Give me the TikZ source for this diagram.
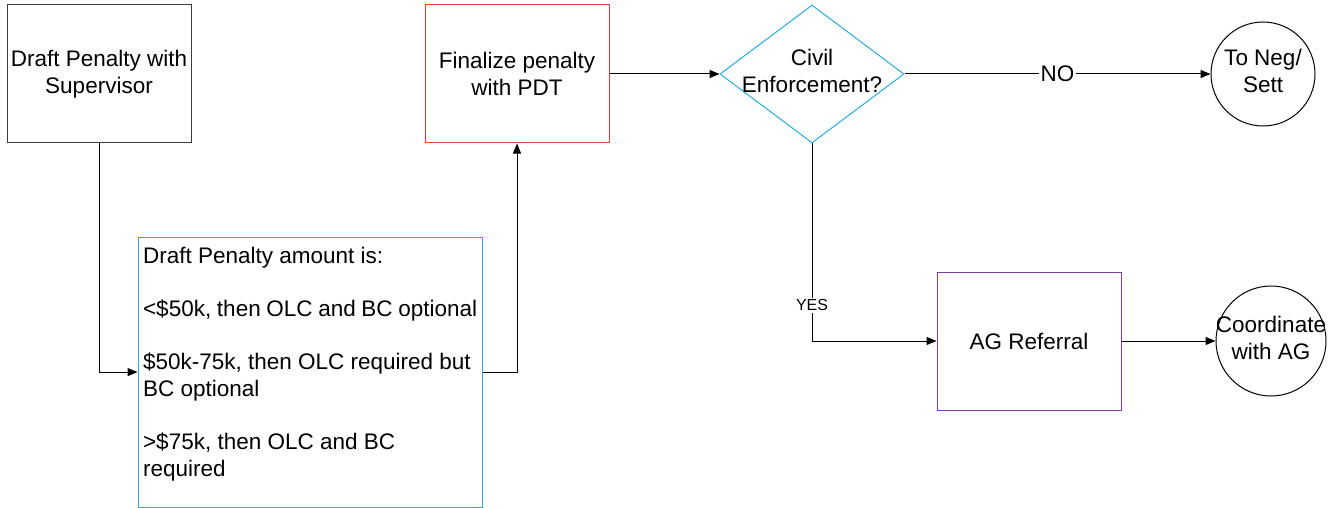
\documentclass[tikz,border=0pt]{standalone}
\usepackage{fontspec}
\setmainfont{Liberation Sans}
\usetikzlibrary{shapes.geometric,arrows.meta,positioning}
\definecolor{flowcyan}{RGB}{40,170,230}
\definecolor{flowred}{RGB}{232,64,64}
\definecolor{flowpurple}{RGB}{126,64,160}
\definecolor{flowgray}{RGB}{60,60,60}
\newcommand{\tightlabel}[1]{\makebox[0pt]{\begin{tabular}{@{}c@{}}#1\end{tabular}}}

\begin{document}
\begin{tikzpicture}[x=0.5pt, y=-0.5pt, line width=0.5pt,
    >={Triangle[length=5pt,width=4pt]},
    every node/.style={font=\fontsize{11.25}{13.5}\selectfont},
    taskbox/.style={draw, rectangle, minimum width=92pt, minimum height=69pt, inner sep=0pt, align=center},
    notebox/.style={draw=flowcyan, rectangle, line width=0.6pt, anchor=north west, inner xsep=2.5pt, inner ysep=5pt},
    decision/.style={draw=flowcyan, diamond, minimum width=92pt, minimum height=69pt, inner sep=0pt},
    endpoint/.style={draw, circle, inner sep=0pt},
    flowlabel/.style={fill=white, inner sep=1pt}]
    \useasboundingbox (0,0) rectangle (1338,508);

    \node [taskbox, draw=flowgray] (draft) at (99,74) {Draft Penalty with\\Supervisor};
    \node [notebox] (amount) at (137.5,236.5)
        {\parbox[t][125pt][t]{167pt}{\raggedright
        Draft Penalty amount is:\\[13pt]
        <\$50k, then OLC and BC optional\\[13pt]
        \$50k-75k, then OLC required but\\
        BC optional\\[13pt]
        >\$75k, then OLC and BC\\
        required}};
    \node [taskbox, draw=flowred] (final) at (517,74) {Finalize penalty\\with PDT};
    \node [decision] (civil) at (812,74) {\tightlabel{Civil\\Enforcement?}};
    \node [endpoint, minimum size=52pt] (negsett) at (1263,74) {\tightlabel{To Neg/\\Sett}};
    \node [taskbox, draw=flowpurple] (agref) at (1029,341) {AG Referral};
    \node [endpoint, minimum size=55pt] (coord) at (1271,341) {\tightlabel{Coordinate\\with AG}};

    \draw [->] (draft.south) |- (amount.west);
    \draw [->] (amount.east) -| (final.south);
    \draw [->] (final.east) -- (civil.west);
    \draw [->] (civil.east) -- node [flowlabel] {NO} (negsett.west);
    \draw [->] (civil.south) |- node [flowlabel, pos=0.41, font=\fontsize{8}{9.6}\selectfont] {YES} (agref.west);
    \draw [->] (agref.east) -- (coord.west);
\end{tikzpicture}
\end{document}
